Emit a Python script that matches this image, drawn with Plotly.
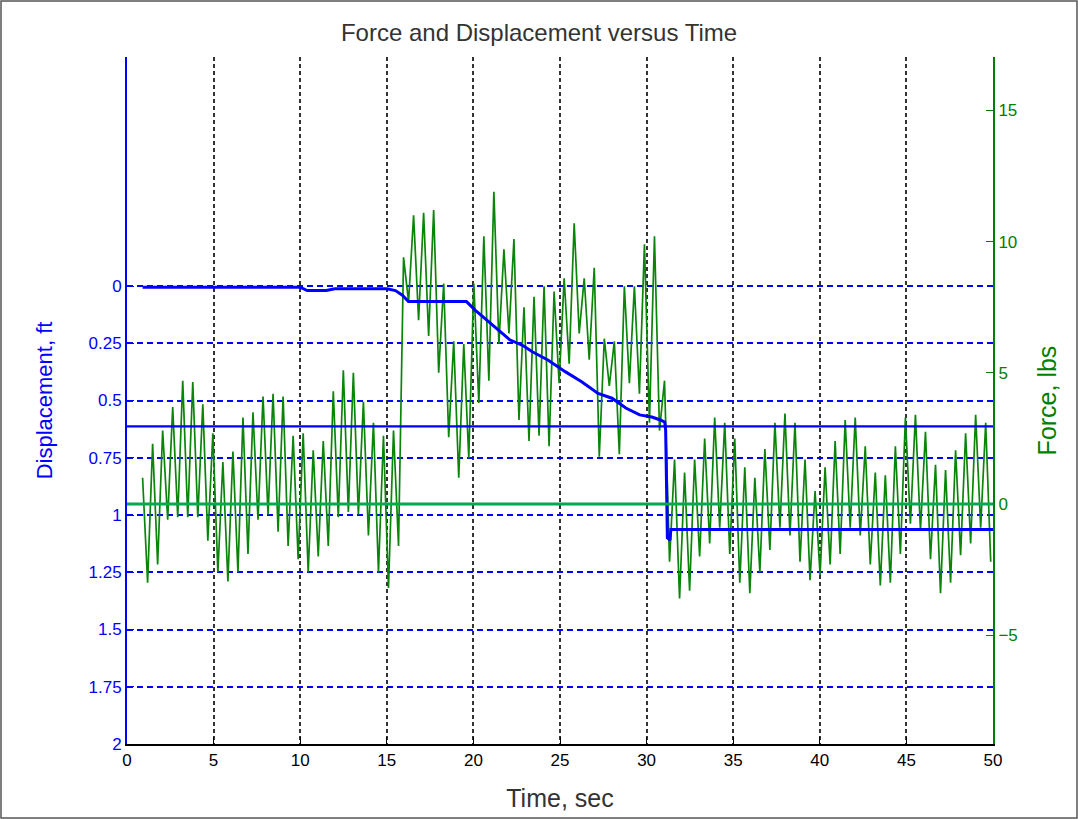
import numpy as np
import plotly.graph_objects as go

# ---- data -------------------------------------------------------------
# Force signal: alternating peak / trough samples on a uniform time base
force_t0 = 0.90          # s, first sample
force_dt = 0.28975       # s, spacing between successive extremes

force_peaks = [
    1.0, 2.3, 2.8, 3.7, 4.7, 4.65, 3.8, 2.7, 1.6, 2.0,
    3.3, 3.5, 4.1, 4.2, 4.1, 2.6, 2.7, 2.05, 2.4, 4.3,
    5.1, 5.0, 3.9, 3.1, 2.6, 2.8, 9.4, 11.0, 11.1, 11.2,
    8.4, 6.2, 6.1, 8.4, 10.2, 11.9, 9.7, 10.1, 7.5, 7.9,
    8.3, 8.1, 8.6, 10.7, 8.6, 9.0, 6.3, 6.2, 8.3, 8.3,
    9.9, 10.2, 4.7, 1.7, 1.2, 1.7, 2.5, 3.3, 3.1, 2.5,
    1.4, 1.0, 2.1, 3.1, 3.45, 3.1, 1.7, 0.5, 1.4, 2.4,
    3.2, 3.3, 2.2, 1.2, 1.1, 2.2, 3.3, 3.4, 2.75, 1.5,
    1.3, 2.05, 2.7, 3.4, 3.1,
]
force_troughs = [
    -3.0, -2.3, -0.6, -0.5, -0.5, -0.5, -1.4, -2.6, -2.95, -2.6,
    -1.9, -0.6, -0.4, -1.05, -1.6, -2.1, -2.6, -2.0, -1.6, -0.5,
    -0.3, -0.4, -1.2, -2.6, -3.2, -1.6, 7.7, 7.0, 6.4, 5.0,
    2.55, 1.0, 1.75, 3.85, 4.7, 6.1, 6.5, 3.2, 2.4, 2.6,
    2.2, 4.6, 5.35, 6.5, 5.5, 1.8, 4.5, 1.9, 4.6, 4.2,
    3.1, 2.8, -2.2, -3.6, -3.3, -2.0, -1.5, -0.9, -1.9, -3.0,
    -3.4, -2.6, -1.75, -0.9, -1.2, -2.2, -2.9, -2.7, -2.3, -1.9,
    -0.9, -1.2, -2.3, -3.1, -3.0, -1.9, -0.75, -1.0, -2.1, -3.4,
    -3.0, -1.95, -1.5, -0.9, -2.2,
]

# Displacement (ft) versus time (s)
disp_time = [0.9, 5.0, 10.0, 10.4, 11.5, 12.0, 15.0, 15.5, 15.9, 16.25,
             19.6, 20.1, 21.25, 22.1, 22.9, 23.4, 24.3, 25.3, 26.25, 27.2,
             28.0, 28.8, 29.6, 30.3, 30.8, 31.05, 31.1, 31.15, 31.2, 31.35,
             31.4, 50.0]
disp_ft = [0.005, 0.005, 0.005, 0.02, 0.02, 0.012, 0.012, 0.02, 0.04, 0.068,
           0.068, 0.105, 0.18, 0.235, 0.262, 0.287, 0.323, 0.374, 0.418, 0.469,
           0.49, 0.533, 0.563, 0.572, 0.585, 0.595, 0.63, 0.85, 1.10, 1.11,
           1.063, 1.063]

disp_ref_ft = 0.613      # horizontal reference level, ft
force_ref_lbs = 0.0      # zero-force reference

time_range = [0, 50]
disp_ticks = [0, 0.25, 0.5, 0.75, 1, 1.25, 1.5, 1.75, 2]
disp_tick_text = ["0", "0.25", "0.5", "0.75", "1", "1.25", "1.5", "1.75", "2"]
force_ticks = [-5, 0, 5, 10, 15]
time_ticks = list(range(0, 51, 5))

# ---- build the zig-zag force series ------------------------------------
force_vals = []
for p, q in zip(force_peaks, force_troughs):
    force_vals += [p, q]
force_time = force_t0 + force_dt * np.arange(len(force_vals))

BLUE = "#0000ff"
GREEN = "#008000"
FONT = "Liberation Sans, Arial, sans-serif"

fig = go.Figure()

# force on the primary (right-hand) axis so it sits underneath everything
fig.add_trace(go.Scatter(x=force_time, y=force_vals, mode="lines",
                         line=dict(color="#0a850a", width=1.7),
                         yaxis="y", showlegend=False, hoverinfo="skip"))

# displacement on the overlaid left-hand axis
fig.add_trace(go.Scatter(x=time_range, y=[disp_ref_ft, disp_ref_ft], mode="lines",
                         line=dict(color=BLUE, width=2.2),
                         yaxis="y2", showlegend=False, hoverinfo="skip"))
fig.add_trace(go.Scatter(x=disp_time, y=disp_ft, mode="lines",
                         line=dict(color=BLUE, width=3),
                         yaxis="y2", showlegend=False, hoverinfo="skip"))

shapes = [
    # zero-force line drawn above the signal
    dict(type="line", xref="x", yref="y", x0=time_range[0], x1=time_range[1],
         y0=force_ref_lbs, y1=force_ref_lbs, layer="above",
         line=dict(color="#00a84f", width=3)),
    # figure frame
    dict(type="rect", xref="paper", yref="paper",
         x0=-0.1455, x1=1.0970, y0=-0.1077, y1=1.0815,
         line=dict(color="#555555", width=1.5), layer="above"),
]

fig.update_layout(
    width=1078, height=819,
    margin=dict(l=127, r=85, t=57, b=75),
    paper_bgcolor="white", plot_bgcolor="white",
    font=dict(family=FONT, size=17, color="black"),
    title=dict(text="Force and Displacement versus Time",
               x=0.5, xanchor="center", y=0.96, yanchor="middle",
               font=dict(size=24, color="#333333")),
    shapes=shapes,
    xaxis=dict(
        range=time_range, tickvals=time_ticks,
        showgrid=True, gridcolor="#333333", griddash="4px,3px", gridwidth=2,
        zeroline=False, showline=True, linecolor="black", linewidth=2,
        ticks="inside", ticklen=7, tickcolor="black",
        tickfont=dict(size=17, color="black"),
        title=dict(text="Time, sec", font=dict(size=25, color="#333333"), standoff=20),
    ),
    yaxis=dict(
        range=[-9.14, 17.03], tickvals=force_ticks, side="right",
        showgrid=False, zeroline=False, showline=True,
        linecolor=GREEN, linewidth=2,
        ticks="inside", ticklen=7, tickcolor=GREEN,
        tickfont=dict(size=17, color=GREEN),
        title=dict(text="Force, lbs", font=dict(size=25, color=GREEN), standoff=22),
    ),
    yaxis2=dict(
        overlaying="y", side="left", range=[2, -1],
        tickvals=disp_ticks, ticktext=disp_tick_text,
        showgrid=True, gridcolor=BLUE, griddash="6px,4px", gridwidth=2,
        zeroline=False, showline=True, linecolor=BLUE, linewidth=2,
        ticks="inside", ticklen=7, tickcolor=BLUE,
        tickfont=dict(size=17, color=BLUE),
        title=dict(text="Displacement, ft", font=dict(size=22, color=BLUE), standoff=30),
    ),
)

fig.write_html("out.html")
